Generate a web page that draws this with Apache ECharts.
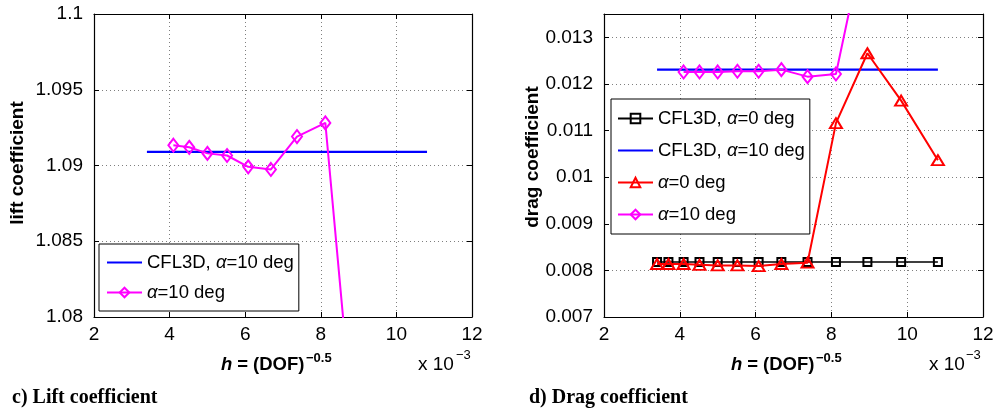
<!DOCTYPE html>
<html><head><meta charset="utf-8">
<script src="https://cdn.jsdelivr.net/npm/echarts@6/dist/echarts.min.js"></script>
<style>html,body{margin:0;padding:0;background:#fff}#c{width:997px;height:417px}</style>
</head><body><div id="c"></div>
<script>
// h = (DOF)^-0.5, x 10^-3
const hValues = [3.40, 3.70, 4.10, 4.52, 5.00, 5.52, 6.08, 6.68, 7.37, 8.12, 8.95, 9.84, 10.81];
// Lift coefficient
const liftCfl3d10 = [1.0909, 1.0909];            // at first and last h
const liftAlpha10 = [1.09134, 1.0912, 1.0908, 1.09066, 1.08991, 1.08974, 1.09191, 1.09281, 1.0701]; // h index 2..10
// Drag coefficient
const dragCfl3d0 = [0.00818,0.00818,0.00818,0.00818,0.00818,0.00818,0.00818,0.00818,0.00818,0.00818,0.00818,0.00818,0.00818];
const dragCfl3d10 = [0.012306, 0.012306];
const dragAlpha0 = [0.008137,0.008137,0.008137,0.00812,0.008107,0.008107,0.008093,0.008137,0.008165,0.011158,0.012658,0.011642,0.010364];
const dragAlpha10 = [0.012257,0.012257,0.012257,0.012272,0.012272,0.012306,0.012156,0.012214,0.0154]; // h index 2..10
const xTicks = [2,4,6,8,10,12];

const endsH = [hValues[0], hValues[hValues.length-1]];
const pair = (xs, ys) => ys.map((y,i)=>[xs[i], y]);
const sub = hValues.slice(2, 11);

const FONT = 'Liberation Sans';
const fmt = v => String(+(+v).toFixed(4));
const gridLine = {show:true, lineStyle:{color:'#7f7f7f', type:[1,3], width:1}};
function xAx(grid, pos){
  const main = pos==='bottom';
  return {type:'value', gridIndex:grid, position:pos, min:xTicks[0], max:xTicks[xTicks.length-1], interval:xTicks[1]-xTicks[0],
    axisLine:{show:true, onZero:false, lineStyle:{color:'#000', width:1.2}},
    axisTick:{show:true, inside:true, length:5, lineStyle:{color:'#000'}},
    axisLabel:{show:main, margin:8, color:'#000', fontFamily:FONT, fontSize:19},
    splitLine: main ? gridLine : {show:false}};
}
function yAx(grid, pos, min, max, interval, showMax){
  const main = pos==='left';
  return {type:'value', gridIndex:grid, position:pos, min, max, interval,
    axisLine:{show:true, onZero:false, lineStyle:{color:'#000', width:1.2}},
    axisTick:{show:true, inside:true, length:5, lineStyle:{color:'#000'}},
    axisLabel:{show:main, margin:11, color:'#000', fontFamily:FONT, fontSize:19, formatter:fmt, showMaxLabel:showMax},
    splitLine: main ? gridLine : {show:false}};
}
const hollow = c => ({color:'rgba(255,255,255,0)', borderColor:c, borderWidth:2});
const LFS = 18.5;
const legendRich = {a:{fontStyle:'italic', fontFamily:FONT, fontSize:LFS, color:'#000'}};
const legendFmt = n => n.replace('α', '{a|α}');
const lineOnly = {name:'CFL3D, α=10 deg', itemStyle:{opacity:0}};

const option = {
  animation:false,
  backgroundColor:'#fff',
  grid:[{left:94, top:14, width:378, height:303, show:false},
        {left:604, top:14, width:379, height:303, show:false}],
  xAxis:[xAx(0,'bottom'), xAx(0,'top'), xAx(1,'bottom'), xAx(1,'top')],
  yAxis:[yAx(0,'left',1.08,1.1,0.005,true), yAx(0,'right',1.08,1.1,0.005,false),
         yAx(1,'left',0.007,0.0135,0.001,false), yAx(1,'right',0.007,0.0135,0.001,false)],
  legend:[
    {left:99, top:244, orient:'vertical', data:[lineOnly,'α=10 deg'],
     backgroundColor:'#fff', borderColor:'#000', borderWidth:1, padding:[9,5,9,7],
     itemWidth:35, itemHeight:12, itemGap:11, selectedMode:false,
     formatter:legendFmt, textStyle:{fontFamily:FONT, fontSize:LFS, color:'#000', rich:legendRich}},
    {left:611, top:99, orient:'vertical', data:['CFL3D, α=0 deg',lineOnly,'α=0 deg','α=10 deg'],
     backgroundColor:'#fff', borderColor:'#000', borderWidth:1, padding:[10,5,10,6],
     itemWidth:35, itemHeight:12, itemGap:13, selectedMode:false,
     formatter:legendFmt, textStyle:{fontFamily:FONT, fontSize:LFS, color:'#000', rich:legendRich}}
  ],
  series:[
    {name:'CFL3D, α=10 deg', type:'line', xAxisIndex:0, yAxisIndex:0, data:pair(endsH, liftCfl3d10),
     symbol:'none', lineStyle:{color:'#0000ff', width:2.2}, itemStyle:{color:'#0000ff'}, z:3},
    {name:'α=10 deg', type:'line', xAxisIndex:0, yAxisIndex:0, data:pair(sub, liftAlpha10), clip:true,
     symbol:'diamond', symbolSize:[10,13], lineStyle:{color:'#ff00ff', width:2}, itemStyle:hollow('#ff00ff'), z:4},
    {name:'CFL3D, α=0 deg', type:'line', xAxisIndex:2, yAxisIndex:2, data:pair(hValues, dragCfl3d0),
     symbol:'rect', symbolSize:8, lineStyle:{color:'#000', width:1.5}, itemStyle:hollow('#000'), z:3},
    {name:'CFL3D, α=10 deg', type:'line', xAxisIndex:2, yAxisIndex:2, data:pair(endsH, dragCfl3d10),
     symbol:'none', lineStyle:{color:'#0000ff', width:2.2}, itemStyle:{color:'#0000ff'}, z:3},
    {name:'α=0 deg', type:'line', xAxisIndex:2, yAxisIndex:2, data:pair(hValues, dragAlpha0),
     symbol:'triangle', symbolSize:[12,10], lineStyle:{color:'#ff0000', width:2}, itemStyle:hollow('#ff0000'), z:4},
    {name:'α=10 deg', type:'line', xAxisIndex:2, yAxisIndex:2, data:pair(sub, dragAlpha10), clip:true,
     symbol:'diamond', symbolSize:[10,13], lineStyle:{color:'#ff00ff', width:2}, itemStyle:hollow('#ff00ff'), z:4}
  ],
  graphic:[
    {type:'text', rotation:Math.PI/2, x:18, y:163, style:{text:'lift coefficient', font:'bold 19px "Liberation Sans"', fill:'#000', align:'center', verticalAlign:'middle'}},
    {type:'text', rotation:Math.PI/2, x:533, y:157, style:{text:'drag coefficient', font:'bold 19px "Liberation Sans"', fill:'#000', align:'center', verticalAlign:'middle'}},
    {type:'text', x:221, y:365, style:{text:'h', font:'italic bold 18.5px "Liberation Sans"', fill:'#000', verticalAlign:'middle'}},
    {type:'text', x:232, y:365, style:{text:' = (DOF)', font:'bold 18.5px "Liberation Sans"', fill:'#000', verticalAlign:'middle'}},
    {type:'text', x:306, y:358, style:{text:'−0.5', font:'bold 13px "Liberation Sans"', fill:'#000', verticalAlign:'middle'}},
    {type:'text', x:418, y:365, style:{text:'x 10', font:'19px "Liberation Sans"', fill:'#000', verticalAlign:'middle'}},
    {type:'text', x:456, y:355, style:{text:'−3', font:'13px "Liberation Sans"', fill:'#000', verticalAlign:'middle'}},
    {type:'text', x:731, y:365, style:{text:'h', font:'italic bold 18.5px "Liberation Sans"', fill:'#000', verticalAlign:'middle'}},
    {type:'text', x:742, y:365, style:{text:' = (DOF)', font:'bold 18.5px "Liberation Sans"', fill:'#000', verticalAlign:'middle'}},
    {type:'text', x:816, y:358, style:{text:'−0.5', font:'bold 13px "Liberation Sans"', fill:'#000', verticalAlign:'middle'}},
    {type:'text', x:929, y:365, style:{text:'x 10', font:'19px "Liberation Sans"', fill:'#000', verticalAlign:'middle'}},
    {type:'text', x:966, y:355, style:{text:'−3', font:'13px "Liberation Sans"', fill:'#000', verticalAlign:'middle'}},
    {type:'text', x:12, y:398, style:{text:'c) Lift coefficient', font:'bold 20px "Liberation Serif"', fill:'#000', verticalAlign:'middle'}},
    {type:'text', x:529, y:398, style:{text:'d) Drag coefficient', font:'bold 20px "Liberation Serif"', fill:'#000', verticalAlign:'middle'}}
  ]
};
const chart = echarts.init(document.getElementById('c'), null, {renderer:'canvas'});
chart.setOption(option);
</script></body></html>
